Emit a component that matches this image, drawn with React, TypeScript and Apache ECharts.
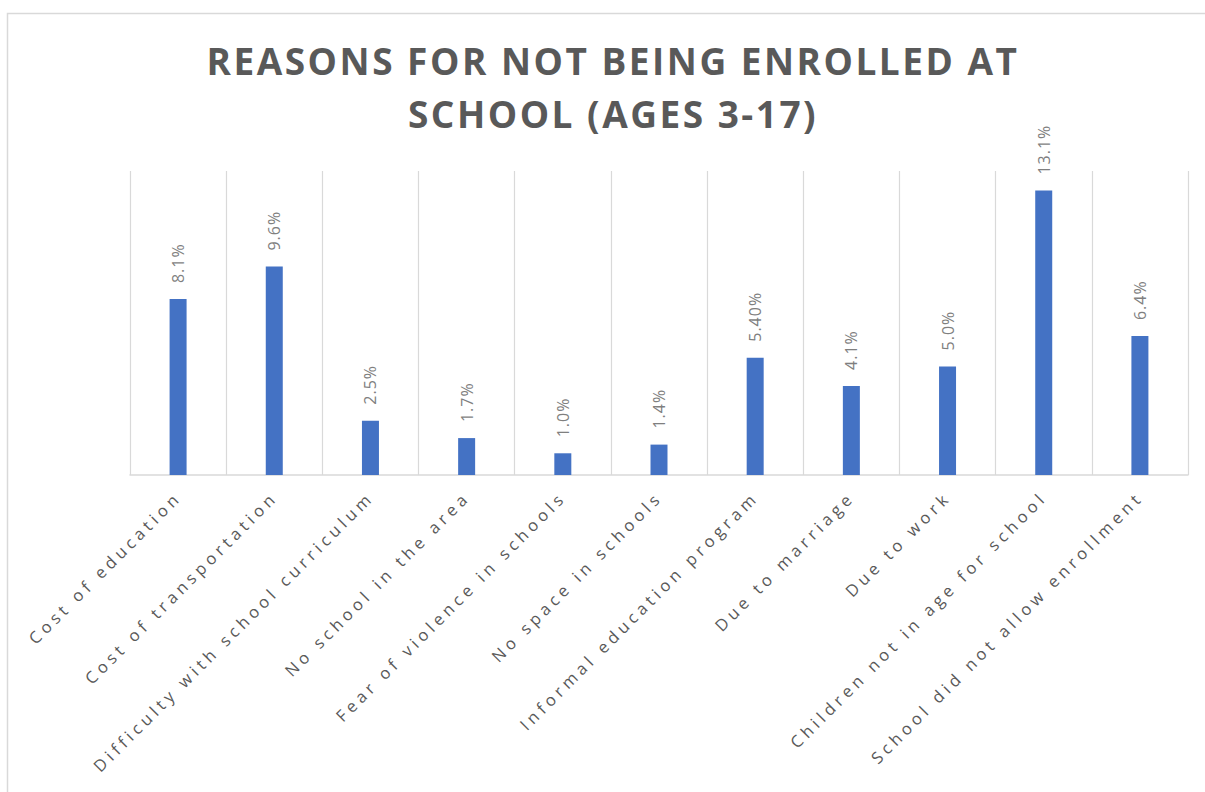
import { useEffect, useRef } from "react";
import * as echarts from "echarts";

const titleLines = ["REASONS FOR NOT BEING ENROLLED AT", "SCHOOL (AGES 3-17)"];
const categories = [
  "Cost of education",
  "Cost of transportation",
  "Difficulty with school curriculum",
  "No school in the area",
  "Fear of violence in schools",
  "No space in schools",
  "Informal education program",
  "Due to marriage",
  "Due to work",
  "Children not in age for school",
  "School did not allow enrollment",
];
const values = [8.1, 9.6, 2.5, 1.7, 1.0, 1.4, 5.4, 4.1, 5.0, 13.1, 6.4];
const valueLabels = ["8.1%", "9.6%", "2.5%", "1.7%", "1.0%", "1.4%", "5.40%", "4.1%", "5.0%", "13.1%", "6.4%"];
const yMin = 0;
const yMax = 14;

function applyLetterSpacing(root: HTMLElement) {
  root.querySelectorAll("svg text").forEach((t) => {
    const s = t.textContent || "";
    let ls = "4.3px";
    if (titleLines.includes(s)) ls = "2.5px";
    else if (valueLabels.includes(s)) ls = "1px";
    t.setAttribute("letter-spacing", ls);
  });
}

export default function App() {
  const ref = useRef<HTMLDivElement>(null);
  useEffect(() => {
    const el = ref.current!;
    const chart = echarts.init(el, undefined, { renderer: "svg" });
    const option: any = {
      animation: false,
      backgroundColor: "#ffffff",
      grid: { left: 130, right: 17, top: 171, bottom: 317, containLabel: false },
      graphic: [
        {
          type: "rect",
          shape: { x: 7.5, y: 13.5, width: 1300, height: 900 },
          style: { fill: "none", stroke: "#d9d9d9", lineWidth: 1.5 },
          silent: true,
        },
        ...titleLines.map((line, i) => ({
          type: "text",
          x: 613,
          y: 60 + i * 53,
          style: {
            text: line,
            align: "center",
            verticalAlign: "middle",
            fill: "#595959",
            font: "bold 37px 'Open Sans'",
          },
        })),
      ],
      xAxis: {
        type: "category",
        data: categories,
        boundaryGap: true,
        axisLine: { show: true, lineStyle: { color: "#d9d9d9", width: 1.5 } },
        axisTick: { show: false },
        splitLine: { show: true, lineStyle: { color: "#d9d9d9", width: 1.2 } },
        axisLabel: {
          interval: 0,
          rotate: 45,
          margin: 19,
          color: "#595959",
          fontSize: 16.5,
          fontFamily: "Open Sans",
        },
      },
      yAxis: {
        type: "value",
        min: yMin,
        max: yMax,
        show: false,
        splitLine: { show: false },
      },
      series: [
        {
          type: "bar",
          data: values,
          barWidth: 17,
          itemStyle: { color: "#4472c4" },
          label: {
            show: true,
            position: "top",
            rotate: 90,
            align: "left",
            verticalAlign: "middle",
            distance: 16,
            formatter: (p: any) => valueLabels[p.dataIndex],
            color: "#7f7f7f",
            fontSize: 16,
            fontFamily: "Open Sans",
          },
        },
      ],
    };
    chart.setOption(option);
    applyLetterSpacing(el);
    const onFinished = () => applyLetterSpacing(el);
    chart.on("finished", onFinished);
    const timer = setTimeout(() => applyLetterSpacing(el), 50);
    return () => {
      clearTimeout(timer);
      chart.off("finished", onFinished);
      chart.dispose();
    };
  }, []);
  return (
    <div
      ref={ref}
      style={{ position: "absolute", left: 0, top: 0, width: 1205, height: 792 }}
    />
  );
}
